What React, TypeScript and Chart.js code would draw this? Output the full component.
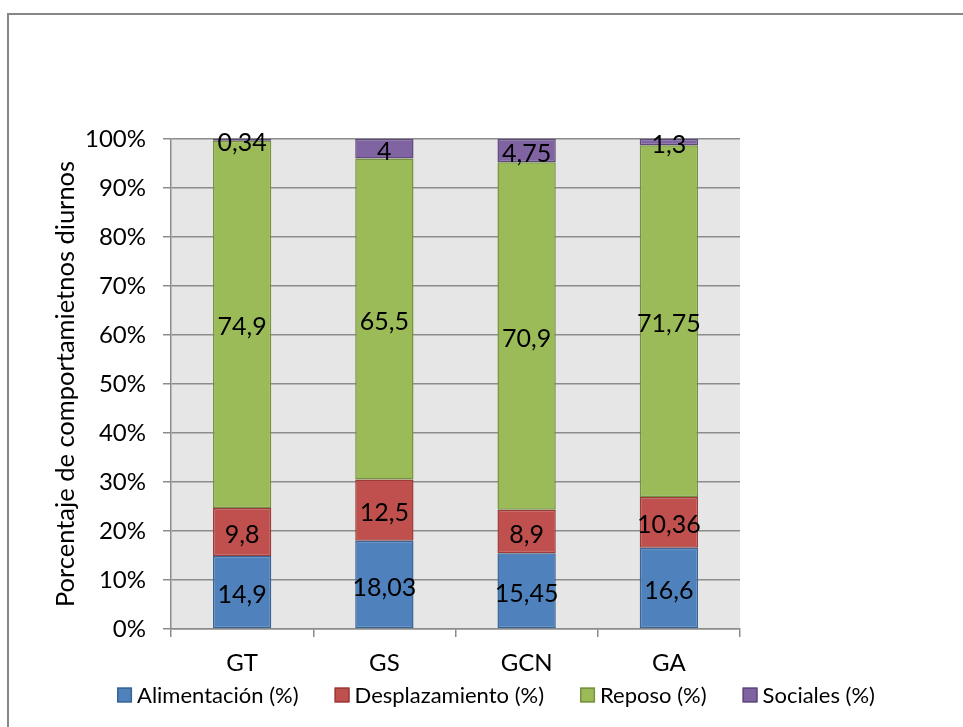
import React, { useEffect, useRef } from 'react';
import { Chart, registerables } from 'chart.js';

Chart.register(...registerables);

// ---- Data ----
const categories = ['GT', 'GS', 'GCN', 'GA'];
const alimentacion = [14.9, 18.03, 15.45, 16.6];
const desplazamiento = [9.8, 12.5, 8.9, 10.36];
const reposo = [74.9, 65.5, 70.9, 71.75];
const sociales = [0.34, 4, 4.75, 1.3];
const seriesNames = ['Alimentación (%)', 'Desplazamiento (%)', 'Reposo (%)', 'Sociales (%)'];
const yTickValues = [0, 10, 20, 30, 40, 50, 60, 70, 80, 90, 100];
const yTitle = 'Porcentaje de comportamietnos diurnos';

// ---- Styles ----
const FONT = 'Lato';
const fills = ['#4F81BD', '#C0504D', '#9BBB59', '#8064A2'];
const borders = ['#3A6595', '#9A3D3A', '#76923F', '#5F4A7C'];
const GRID = '#8C8C8C';

const series = [alimentacion, desplazamiento, reposo, sociales];
const totals = categories.map((_, i) => series.reduce((s, arr) => s + arr[i], 0));

const fmt = (v: number) => String(v).replace('.', ',');

const bgPlugin = {
  id: 'plotBg',
  beforeDraw(chart: any) {
    const { ctx, chartArea } = chart;
    if (!chartArea) return;
    ctx.save();
    ctx.fillStyle = '#E6E6E6';
    ctx.fillRect(chartArea.left, chartArea.top, chartArea.right - chartArea.left, chartArea.bottom - chartArea.top);
    ctx.restore();
  },
};

const labelPlugin = {
  id: 'segLabels',
  afterDatasetsDraw(chart: any) {
    const { ctx } = chart;
    ctx.save();
    ctx.font = `25px ${FONT}`;
    ctx.fillStyle = '#000';
    ctx.textAlign = 'center';
    ctx.textBaseline = 'middle';
    chart.data.datasets.forEach((ds: any, di: number) => {
      const meta = chart.getDatasetMeta(di);
      meta.data.forEach((el: any, j: number) => {
        const { x, y, base } = el.getProps(['x', 'y', 'base'], true);
        ctx.fillText(fmt(ds.raw[j]), x, (y + base) / 2 + 3);
      });
    });
    ctx.restore();
  },
};

const legendPlugin = {
  id: 'customLegend',
  afterDraw(chart: any) {
    const { ctx } = chart;
    ctx.save();
    ctx.font = `22px ${FONT}`;
    ctx.textBaseline = 'middle';
    ctx.textAlign = 'left';
    const box = 15;
    const gapBoxText = 5;
    const gapItems = 36;
    const items = chart.data.datasets.map((ds: any) => ({
      label: ds.label,
      fill: ds.backgroundColor,
      stroke: ds.borderColor,
      w: box + gapBoxText + ctx.measureText(ds.label).width,
    }));
    const total = items.reduce((s: number, it: any) => s + it.w, 0) + gapItems * (items.length - 1);
    const centerX = 496;
    const cy = 695;
    let x = centerX - total / 2;
    items.forEach((it: any) => {
      ctx.fillStyle = it.fill;
      ctx.fillRect(x, cy - box / 2, box, box);
      ctx.strokeStyle = it.stroke;
      ctx.lineWidth = 1.5;
      ctx.strokeRect(x + 0.75, cy - box / 2 + 0.75, box - 1.5, box - 1.5);
      ctx.fillStyle = '#000';
      ctx.fillText(it.label, x + box + gapBoxText, cy + 1);
      x += it.w + gapItems;
    });
    ctx.restore();
  },
};

export default function App() {
  const ref = useRef<HTMLCanvasElement | null>(null);

  useEffect(() => {
    if (!ref.current) return;
    const chart = new Chart(ref.current, {
      type: 'bar',
      data: {
        labels: categories,
        datasets: series.map((arr, k) => ({
          label: seriesNames[k],
          data: arr.map((v, i) => (v / totals[i]) * 100),
          raw: arr,
          backgroundColor: fills[k],
          borderColor: borders[k],
          borderWidth: 1.5,
          borderSkipped: false,
          barPercentage: 0.41,
          categoryPercentage: 1,
        })) as any,
      },
      options: {
        responsive: false,
        animation: false,
        devicePixelRatio: 1,
        layout: { padding: { left: 0, top: 139, right: 223, bottom: 38 } },
        plugins: {
          legend: { display: false },
          tooltip: { enabled: false },
        },
        scales: {
          x: {
            stacked: true,
            grid: {
              display: true,
              drawOnChartArea: false,
              drawTicks: true,
              tickLength: 8,
              color: GRID,
              lineWidth: 1.5,
              offset: true,
            },
            border: { color: GRID, width: 1.5 },
            ticks: { font: { family: FONT, size: 24 }, color: '#000', padding: 12 },
            afterFit: (s: any) => {
              s.height = 60;
            },
          },
          y: {
            stacked: true,
            min: 0,
            max: 100,
            afterBuildTicks: (s: any) => {
              s.ticks = yTickValues.map((v) => ({ value: v }));
            },
            ticks: {
              font: { family: FONT, size: 24 },
              color: '#000',
              padding: 17,
              callback: (v: any) => v + '%',
            },
            grid: { color: GRID, lineWidth: 1.5, tickLength: 8, drawTicks: true },
            border: { color: GRID, width: 1.5 },
            title: {
              display: true,
              text: yTitle,
              color: '#000',
              font: { family: FONT, size: 25.5 },
              padding: { top: 50, bottom: 0 },
            },
            afterFit: (s: any) => {
              s.width = 171;
            },
          },
        },
      } as any,
      plugins: [bgPlugin, labelPlugin, legendPlugin],
    });
    return () => chart.destroy();
  }, []);

  return (
    <div style={{ position: 'fixed', left: 0, top: 0, width: 963, height: 727, overflow: 'hidden', background: '#fff' }}>
      <div
        style={{
          position: 'absolute',
          left: 7,
          top: 13,
          width: 1200,
          height: 1000,
          borderLeft: '2px solid #878787',
          borderTop: '2px solid #878787',
        }}
      />
      <canvas ref={ref} width={963} height={727} style={{ position: 'absolute', left: 0, top: 0 }} />
    </div>
  );
}
